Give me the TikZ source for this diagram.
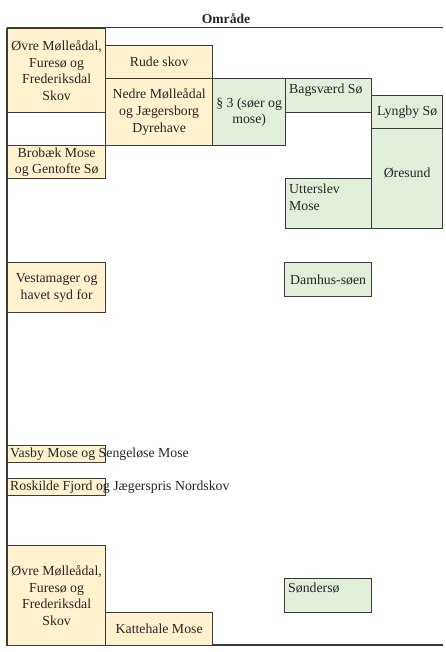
\documentclass[tikz,border=0pt]{standalone}
\usepackage{fontspec}
\setmainfont{Liberation Serif}
\definecolor{amarillo}{HTML}{FFF2CC}
\definecolor{verde}{HTML}{E2EFDA}
\definecolor{borde}{HTML}{3A3A3A}
\tikzset{
	caja/.style={draw=borde, line width=1.3pt, anchor=north west, inner sep=0pt, align=center, text=black!85, font=\fontsize{13.8}{16.7}\selectfont},
	cajaA/.style={caja, fill=amarillo},
	cajaV/.style={caja, fill=verde},
	esquina/.style={anchor=north west, inner sep=0pt, text=black!85, font=\fontsize{13.8}{16.7}\selectfont},
}
\begin{document}
\begin{tikzpicture}[x=1pt, y=-1pt]
		\useasboundingbox (0,0) rectangle (446,652);
		% Marco
			\coordinate (tl) at (7,28);
			\coordinate (tr) at (443,28);
			\coordinate (bl) at (7,645);
			\coordinate (br) at (443,645);
			\draw[borde, line width=1pt] (tl) -- (tr);
			\draw[borde, line width=1.5pt] (tl) -- (bl) -- (br);
			\node[font=\bfseries\fontsize{13.6}{15}\selectfont, text=black!85] (titulo) at (226,19) {Område};
		% Cajas amarillas
			\node[cajaA, minimum width=98, minimum height=84] (ovreA) at (7,28) {Øvre Mølleådal,\\Furesø og\\Frederiksdal\\Skov};
			\node[cajaA, minimum width=107, minimum height=33] (rude) at (105,45) {Rude skov};
			\node[cajaA, minimum width=107, minimum height=67] (nedre) at (105,78) {Nedre Mølleådal\\og Jægersborg\\Dyrehave};
			\node[cajaA, minimum width=98, minimum height=33] (brobaek) at (7,145) {Brobæk Mose\\og Gentofte Sø};
			\node[cajaA, minimum width=98, minimum height=50] (vestamager) at (7,262) {Vestamager og\\havet syd for};
			\node[cajaA, minimum width=98, minimum height=17] (vasby) at (7,445) {};
			\node[cajaA, minimum width=98, minimum height=17] (roskilde) at (7,478) {};
			\node[cajaA, minimum width=98, minimum height=100] (ovreB) at (7,545) {Øvre Mølleådal,\\Furesø og\\Frederiksdal\\Skov};
			\node[cajaA, minimum width=107, minimum height=33] (kattehale) at (105,612) {Kattehale Mose};
		% Cajas verdes
			\node[cajaV, minimum width=73, minimum height=67] (par3) at (212,78) {§ 3 (søer og\\mose)};
			\node[cajaV, minimum width=86, minimum height=34] (bagsvaerd) at (285,78) {};
			\node[cajaV, minimum width=71, minimum height=33] (lyngby) at (371,95) {Lyngby Sø};
			\node[cajaV, minimum width=71, minimum height=100] (oresund) at (371,128) {};
			\node[cajaV, minimum width=86, minimum height=50] (utterslev) at (285,178) {};
			\node[cajaV, minimum width=87, minimum height=34] (damhus) at (284,262) {Damhus-søen};
			\node[cajaV, minimum width=87, minimum height=34] (sondersoe) at (284,578) {};
		% Textos
			\node[esquina, anchor=center] (tOresund) at ([yshift=6]oresund.center) {Øresund};
			\node[esquina, align=left] (tBagsvaerd) at ([shift={(4,6)}]bagsvaerd.north west) {Bagsværd Sø};
			\node[esquina, align=left] (tUtterslev) at ([shift={(4,6)}]utterslev.north west) {Utterslev\\Mose};
			\node[esquina, align=left] (tSondersoe) at ([shift={(4,5)}]sondersoe.north west) {Søndersø};
			\node[esquina, anchor=west] (tVasby) at ([xshift=3]vasby.west) {Vasby Mose og Sengeløse Mose};
			\node[esquina, anchor=west] (tRoskilde) at ([xshift=3]roskilde.west) {Roskilde Fjord og Jægerspris Nordskov};
	\end{tikzpicture}
\end{document}
